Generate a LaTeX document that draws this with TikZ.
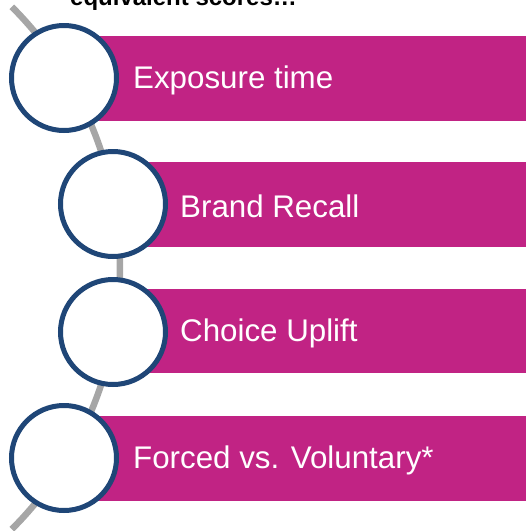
\documentclass[tikz,border=0pt]{standalone}
\usepackage{fontspec}
\setmainfont{Liberation Sans}
\definecolor{barmagenta}{HTML}{C12384}
\definecolor{ringblue}{HTML}{1F4677}
\definecolor{spinegrey}{HTML}{A6A6A6}
\begin{document}
\begin{tikzpicture}[x=1pt,y=-1pt,
  bar/.style={fill=barmagenta, draw=none, anchor=north west, inner sep=0pt},
  ring/.style={circle, draw=ringblue, line width=5pt, fill=white, minimum size=105pt, inner sep=0pt},
  label/.style={text=white, anchor=west, font=\fontsize{31.3}{37}\selectfont, inner sep=0pt},
  spine/.style={draw=spinegrey, line width=6.5pt}]
\useasboundingbox (0,0) rectangle (526,531);
\clip (0,0) rectangle (526,531);
% heading line, partly above the frame
\node[anchor=base west, inner sep=0pt, font=\bfseries\fontsize{24}{29}\selectfont] (head) at (70,5) {equivalent scores\dots};
% curved spine behind the rings
\coordinate (c) at (-249.4,268);
\draw[spine] (c) ++(-45:369.4) arc[start angle=-45, end angle=45, radius=369.4];
% bars
\path[fill=barmagenta] (95,36) rectangle (540,121);
\path[fill=barmagenta] (145,162) rectangle (540,247);
\path[fill=barmagenta] (145,289) rectangle (540,373);
\path[fill=barmagenta] (95,416) rectangle (540,501);
% labels
\node[label] (l1) at (133,80.5) {Exposure time};
\node[label] (l2) at (180,206.5) {Brand Recall};
\node[label] (l3) at (180,333) {Choice Uplift};
\node[label] (l4) at (133,460.5) {Forced vs. Voluntary*};
% rings
\node[ring] (r1) at (64,78) {};
\node[ring] (r2) at (113,204) {};
\node[ring] (r3) at (113,332) {};
\node[ring] (r4) at (64,458) {};
\end{tikzpicture}
\end{document}
